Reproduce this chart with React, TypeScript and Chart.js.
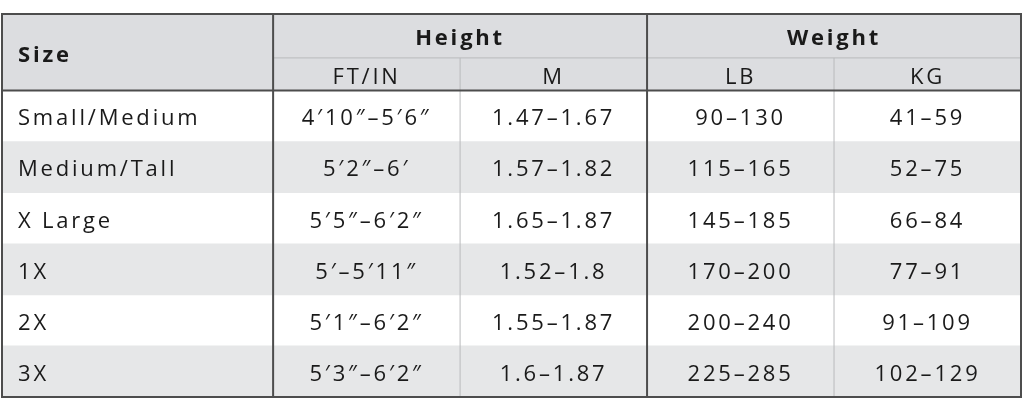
import { useEffect, useRef } from "react";
import Chart from "chart.js/auto";

// table content
const sizes = ["Small/Medium", "Medium/Tall", "X Large", "1X", "2X", "3X"];
const heightFtIn = ["4′10″–5′6″", "5′2″–6′", "5′5″–6′2″", "5′–5′11″", "5′1″–6′2″", "5′3″–6′2″"];
const heightM = ["1.47–1.67", "1.57–1.82", "1.65–1.87", "1.52–1.8", "1.55–1.87", "1.6–1.87"];
const weightLb = ["90–130", "115–165", "145–185", "170–200", "200–240", "225–285"];
const weightKg = ["41–59", "52–75", "66–84", "77–91", "91–109", "102–129"];
const groupLabels = ["Height", "Weight"];
const unitLabels = ["FT/IN", "M", "LB", "KG"];

// layout in scale units
const colEdges = [0, 1.45, 2.45, 3.45, 4.45, 5.45];
const headerTop = -1.5;
const subHeaderTop = -0.64;

const FONT = "'Open Sans', sans-serif";
const TEXT = "#1a1a1a";
const DARK = "#4d4d4d";
const LIGHT = "#b9babc";
const HEADER_BG = "#dcdde0";
const STRIPE_BG = "#e6e7e8";

const tablePlugin = {
  id: "sizeTable",
  beforeDatasetsDraw(chart: any) {
    const { ctx, scales } = chart;
    const x = scales.x;
    const y = scales.y;
    ctx.save();
    ctx.fillStyle = HEADER_BG;
    const x0 = x.getPixelForValue(colEdges[0]);
    const x1 = x.getPixelForValue(colEdges[colEdges.length - 1]);
    const y0 = y.getPixelForValue(headerTop);
    const y1 = y.getPixelForValue(0);
    ctx.fillRect(x0, y0, x1 - x0, y1 - y0);
    ctx.restore();
  },
  afterDatasetsDraw(chart: any) {
    const { ctx, scales } = chart;
    const x = scales.x;
    const y = scales.y;
    const px = (v: number) => x.getPixelForValue(v);
    const py = (v: number) => y.getPixelForValue(v) + 3;
    const ly = (v: number) => y.getPixelForValue(v);
    const left = px(colEdges[0]);
    const right = px(colEdges[colEdges.length - 1]);
    const top = ly(headerTop);
    const bottom = ly(sizes.length);

    const line = (ax: number, ay: number, bx: number, by: number, color: string, w: number) => {
      ctx.beginPath();
      ctx.strokeStyle = color;
      ctx.lineWidth = w;
      ctx.moveTo(ax, ay);
      ctx.lineTo(bx, by);
      ctx.stroke();
    };

    ctx.save();
    // light inner lines
    line(px(colEdges[1]), ly(subHeaderTop), right, ly(subHeaderTop), LIGHT, 1);
    line(px(colEdges[2]), ly(subHeaderTop), px(colEdges[2]), bottom, LIGHT, 1);
    line(px(colEdges[4]), ly(subHeaderTop), px(colEdges[4]), bottom, LIGHT, 1);
    // dark lines
    line(left, ly(0), right, ly(0), DARK, 2);
    line(px(colEdges[1]), top, px(colEdges[1]), bottom, DARK, 2);
    line(px(colEdges[3]), top, px(colEdges[3]), bottom, DARK, 2);
    ctx.strokeStyle = DARK;
    ctx.lineWidth = 2;
    ctx.strokeRect(left, top, right - left, bottom - top);

    // text
    ctx.fillStyle = TEXT;
    ctx.textBaseline = "middle";
    (ctx as any).letterSpacing = "2.8px";
    const padX = 16;

    ctx.font = `bold 22px ${FONT}`;
    ctx.textAlign = "left";
    ctx.fillText("Size", left + padX, py(headerTop / 2));
    ctx.textAlign = "center";
    groupLabels.forEach((g, i) => {
      const a = colEdges[1 + i * 2];
      const b = colEdges[3 + i * 2];
      ctx.fillText(g, px((a + b) / 2), py((headerTop + subHeaderTop) / 2));
    });

    ctx.font = `500 22px ${FONT}`;
    unitLabels.forEach((u, i) => {
      ctx.fillText(u, px((colEdges[i + 1] + colEdges[i + 2]) / 2), py(subHeaderTop / 2));
    });

    const columns = [heightFtIn, heightM, weightLb, weightKg];
    sizes.forEach((s, r) => {
      const cy = py(r + 0.5);
      ctx.textAlign = "left";
      ctx.fillText(s, left + padX, cy);
      ctx.textAlign = "center";
      columns.forEach((col, c) => {
        ctx.fillText(col[r], px((colEdges[c + 1] + colEdges[c + 2]) / 2), cy);
      });
    });
    ctx.restore();
  },
};

export default function App() {
  const canvasRef = useRef<HTMLCanvasElement>(null);
  const chartRef = useRef<Chart | null>(null);

  useEffect(() => {
    if (!canvasRef.current) return;
    if (chartRef.current) chartRef.current.destroy();

    chartRef.current = new Chart(canvasRef.current, {
      type: "bar",
      data: {
        labels: sizes,
        datasets: [
          {
            label: "rows",
            data: sizes.map((_, i) => ({ x: [colEdges[0], colEdges[colEdges.length - 1]], y: i + 0.5 })) as any,
            backgroundColor: sizes.map((_, i) => (i % 2 === 1 ? STRIPE_BG : "rgba(255,255,255,0)")),
            borderWidth: 0,
            borderSkipped: false,
            barPercentage: 1,
            categoryPercentage: 1,
          },
        ],
      },
      options: {
        indexAxis: "y",
        animation: false,
        responsive: false,
        layout: { padding: { left: 2, right: 3, top: 14, bottom: 14 } },
        plugins: { legend: { display: false }, tooltip: { enabled: false } },
        scales: {
          x: { type: "linear", min: colEdges[0], max: colEdges[colEdges.length - 1], display: false },
          y: {
            type: "linear",
            min: headerTop,
            max: sizes.length,
            reverse: true,
            offset: false,
            display: false,
            // one tick per row so the bars take the full row height
            afterBuildTicks: (scale: any) => {
              scale.ticks = sizes.map((_, i) => ({ value: i + 0.5 }));
            },
          },
        },
      },
      plugins: [tablePlugin],
    });

    return () => {
      if (chartRef.current) {
        chartRef.current.destroy();
        chartRef.current = null;
      }
    };
  }, []);

  return (
    <div style={{ position: "absolute", left: 0, top: 0, width: 1024, height: 411, background: "#fff" }}>
      <canvas ref={canvasRef} width={1024} height={411} style={{ width: 1024, height: 411 }}></canvas>
    </div>
  );
}
